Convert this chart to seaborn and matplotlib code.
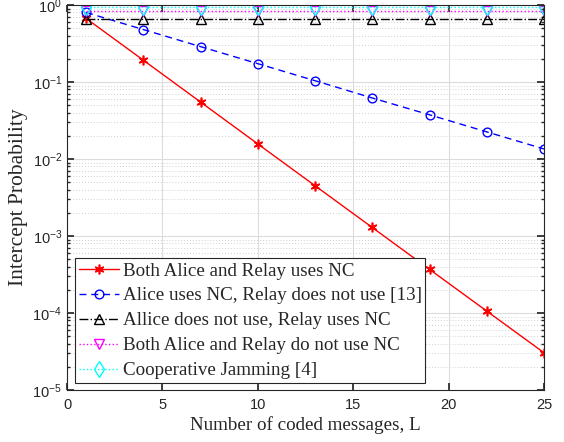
import numpy as np
import pandas as pd
import matplotlib
matplotlib.use("Agg")
import matplotlib.pyplot as plt
import seaborn as sns
from matplotlib.ticker import LogLocator, NullFormatter, MultipleLocator

L = [1, 4, 7, 10, 13, 16, 19, 22, 25]
both_nc = [0.67, 0.192, 0.0549, 0.0157, 0.0045, 0.00129, 3.69e-4, 1.06e-4, 3.05e-5]
alice_nc = [0.80, 0.48, 0.288, 0.173, 0.104, 0.062, 0.0375, 0.0225, 0.0135]
relay_nc = [0.66, 0.66, 0.66, 0.66, 0.66, 0.66, 0.66, 0.66, 0.66]
no_nc = [0.835, 0.835, 0.835, 0.835, 0.835, 0.835, 0.835, 0.835, 0.835]
coop_jam = [0.95, 0.95, 0.95, 0.95, 0.95, 0.95, 0.95, 0.95, 0.95]

labels = ["Both Alice and Relay uses NC",
          "Alice uses NC, Relay does not use [13]",
          "Allice does not use, Relay uses NC",
          "Both Alice and Relay do not use NC",
          "Cooperative Jamming [4]"]

sns.set_theme(style="ticks")
plt.rcParams['font.family'] = ['Liberation Sans', 'DejaVu Sans']
plt.rcParams['mathtext.fontset'] = 'custom'
plt.rcParams['mathtext.rm'] = 'Liberation Sans'
plt.rcParams['mathtext.it'] = 'Liberation Sans:italic'

fig = plt.figure(figsize=(5.64, 4.42), dpi=100)
ax = fig.add_axes([0.1188, 0.1176, 0.8457, 0.8711])

series = [
    (both_nc, dict(color="red", linestyle="-", marker=(6, 2, 0), markersize=7, mfc="red", mec="red", mew=1.2)),
    (alice_nc, dict(color="blue", linestyle=(0, (5, 3.5)), marker="o", markersize=6.3, mfc="none", mec="blue", mew=1.0)),
    (relay_nc, dict(color="black", linestyle="-.", marker="^", markersize=6.8, mfc="none", mec="black", mew=1.0)),
    (no_nc, dict(color="magenta", linestyle=":", marker="v", markersize=6.8, mfc="none", mec="magenta", mew=1.0)),
    (coop_jam, dict(color="cyan", linestyle=":", marker="d", markersize=8, mfc="none", mec="cyan", mew=1.0)),
]

for (vals, kw), lab in zip(series, labels):
    df = pd.DataFrame({"L": L, "P": vals})
    sns.lineplot(data=df, x="L", y="P", ax=ax, label=lab, linewidth=1.0,
                 color=kw["color"], linestyle=kw["linestyle"], marker=kw["marker"],
                 markersize=kw["markersize"], markerfacecolor=kw["mfc"],
                 markeredgecolor=kw["mec"], markeredgewidth=kw["mew"])

ax.set_yscale("log")
ax.set_xlim(0, 25)
ax.set_ylim(1e-5, 1)
ax.xaxis.set_major_locator(MultipleLocator(5))
ax.yaxis.set_major_locator(LogLocator(base=10, numticks=10))
ax.yaxis.set_minor_locator(LogLocator(base=10, subs=np.arange(2, 10), numticks=20))
ax.yaxis.set_minor_formatter(NullFormatter())

ax.grid(True, which="major", color="#dcdcdc", linewidth=0.8, linestyle="-")
ax.grid(True, which="minor", axis="y", color="#d0d0d0", linewidth=0.7, linestyle=(0, (1, 2)))
ax.set_axisbelow(True)

for s in ax.spines.values():
    s.set_color("#262626")
    s.set_linewidth(0.8)
    s.set_visible(True)
ax.tick_params(which="both", direction="in", top=True, right=True, colors="#262626",
               labelsize=10.5, labelcolor="#262626")
ax.tick_params(which="major", length=5)
ax.tick_params(axis="x", which="major", pad=6)
ax.tick_params(which="minor", length=2.5)

serif = ['Liberation Serif', 'DejaVu Serif']
ax.set_xlabel("Number of coded messages, L", family=serif, fontsize=13.7, color="#262626", labelpad=3)
ax.set_ylabel("Intercept Probability", family=serif, fontsize=15.5, color="#262626", labelpad=3)

leg = ax.legend(loc="lower left", bbox_to_anchor=(0.017, 0.018), borderaxespad=0.0,
                prop={"family": serif, "size": 13.7}, frameon=True, fancybox=False,
                edgecolor="#262626", framealpha=1.0, handlelength=2.1, handletextpad=0.2,
                labelspacing=0.4, borderpad=0.2)
leg.get_frame().set_linewidth(0.8)

fig.savefig("out.png", dpi=100)
